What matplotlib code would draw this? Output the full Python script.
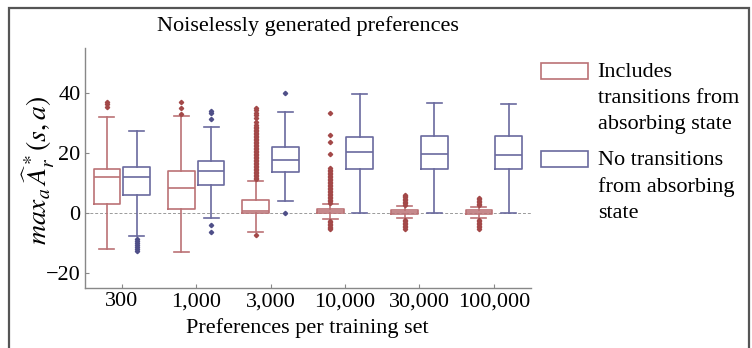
import matplotlib
matplotlib.use('Agg')
import matplotlib.pyplot as plt
from matplotlib.patches import Rectangle, Patch

plt.rcParams['font.family'] = ['Liberation Serif', 'DejaVu Serif']
plt.rcParams['mathtext.fontset'] = 'stix'

categories = ['300', '1,000', '3,000', '10,000', '30,000', '100,000']
series_names = ['Includes\ntransitions from\nabsorbing state',
                'No transitions\nfrom absorbing\nstate']

# "Includes transitions from absorbing state"
inc_whislo = [-12.0, -12.8, -6.3, -2.0, -1.6, -1.5]
inc_q1 = [3.2, 1.6, 0.2, 0.0, -0.1, -0.1]
inc_med = [12.0, 8.3, 0.9, 0.7, 0.3, 0.3]
inc_q3 = [14.9, 14.0, 4.3, 1.3, 1.0, 1.0]
inc_whishi = [32.2, 32.6, 10.8, 3.2, 2.3, 2.2]
inc_fliers = [
    [35.5, 36.3, 37.0],
    [33.2, 35.0, 37.0],
    [-7.3, 11.4, 11.9, 12.4, 12.9, 13.4, 13.9, 14.4, 14.9, 15.4, 15.9, 16.4,
     16.9, 17.4, 17.9, 18.4, 18.9, 19.4, 19.9, 20.4, 20.9, 21.4, 21.9, 22.4,
     22.9, 23.4, 23.9, 24.4, 24.9, 25.4, 25.9, 26.4, 26.9, 27.4, 27.9, 28.4,
     28.9, 29.5, 30.3, 31.8, 32.8, 33.5, 34.4, 35.0],
    [-2.4, -2.9, -3.4, -3.9, -4.4, -4.9, -5.2, 3.6, 4.1, 4.6, 5.1, 5.6, 6.1,
     6.6, 7.1, 7.6, 8.1, 8.6, 9.1, 9.6, 10.1, 10.6, 11.1, 11.6, 12.1, 12.6,
     13.1, 13.6, 14.1, 14.6, 15.2, 19.7, 23.9, 26.1, 33.6],
    [2.8, 3.3, 3.8, 4.3, 4.8, 5.3, 5.8, 6.2, -2.2, -2.7, -3.2, -3.7, -4.2,
     -4.7, -5.2],
    [2.7, 3.2, 3.7, 4.2, 4.7, 5.1, -2.1, -2.6, -3.1, -3.6, -4.1, -4.6, -5.1],
]

# "No transitions from absorbing state"
no_whislo = [-7.4, -1.7, 4.0, 0.0, 0.0, 0.0]
no_q1 = [6.1, 9.3, 13.7, 14.9, 14.7, 14.7]
no_med = [12.2, 14.0, 17.8, 20.3, 19.7, 19.6]
no_q3 = [15.3, 17.6, 22.2, 25.3, 25.7, 25.7]
no_whishi = [27.3, 28.7, 33.8, 39.9, 36.7, 36.3]
no_fliers = [
    [-8.6, -9.3, -10.0, -10.6, -11.2, -11.8, -12.4],
    [31.6, 33.3, 34.0, -3.9, -6.1],
    [40.0, 0.0],
    [], [], [],
]

W, H = 752, 348
fig = plt.figure(figsize=(W / 100, H / 100), dpi=100)
ax = fig.add_axes([84.6 / W, 1 - 288.3 / H, (531 - 84.6) / W, (288.3 - 47.7) / H])

red = '#bb7275'
red_dark = '#a34848'
blue = '#6a6a9e'
blue_dark = '#4f4f88'


def stats(wl, q1, md, q3, wh, fl):
    return [dict(whislo=a, q1=b, med=c, q3=d, whishi=e, fliers=f)
            for a, b, c, d, e, f in zip(wl, q1, md, q3, wh, fl)]


def draw(st, offset, col, fcol):
    pos = [i + offset for i in range(len(st))]
    lp = dict(color=col, linewidth=1.2)
    ax.bxp(st, positions=pos, widths=0.36, capwidths=0.2, patch_artist=False,
           boxprops=lp, whiskerprops=lp, capprops=lp, medianprops=lp,
           flierprops=dict(marker='D', markersize=2.2, markerfacecolor=fcol,
                           markeredgecolor=fcol, linestyle='none'),
           manage_ticks=False)


ax.axhline(0, color='#9a9a9a', lw=0.7, ls=(0, (3, 2)), zorder=0)
draw(stats(inc_whislo, inc_q1, inc_med, inc_q3, inc_whishi, inc_fliers), -0.2, red, red_dark)
draw(stats(no_whislo, no_q1, no_med, no_q3, no_whishi, no_fliers), 0.2, blue, blue_dark)

ax.set_xlim(-0.5, 5.5)
ax.set_ylim(-25, 55.2)
ax.set_xticks(range(len(categories)))
ax.set_xticklabels(categories)
ax.set_yticks([-20, 0, 20, 40])
ax.tick_params(direction='in', length=3, color='#888888', labelsize=16, pad=3)
for s in ['top', 'right']:
    ax.spines[s].set_visible(False)
for s in ['left', 'bottom']:
    ax.spines[s].set_color('#888888')
    ax.spines[s].set_linewidth(1.0)

ax.set_title('Noiselessly generated preferences', fontsize=16, pad=12)
ax.set_xlabel('Preferences per training set', fontsize=16, labelpad=5)
ax.set_ylabel(r'$max_a\,\widehat{A}^*_r(s,a)$', fontsize=20)
ax.yaxis.set_label_coords(-0.062, 0.49)

handles = [Patch(facecolor='white', edgecolor=red, linewidth=1.2),
           Patch(facecolor='white', edgecolor=blue, linewidth=1.2)]
leg = fig.legend(handles, series_names, loc='upper left',
                 bbox_to_anchor=(541 / W, 1 - 63 / H), frameon=False,
                 fontsize=16, handlelength=2.1, handleheight=0.72,
                 handletextpad=0.45, labelspacing=0.75, borderpad=0,
                 borderaxespad=0)
for t in leg.get_texts():
    t.set_linespacing(1.5)
try:
    for col in leg._legend_handle_box.get_children():
        for item in col.get_children():
            item.align = 'top'
except Exception:
    pass

# figure frame
fig.add_artist(Rectangle((8.5 / W, -0.1), (749 - 8.5) / W, 1.1 - 7.5 / H,
                         transform=fig.transFigure, fill=False,
                         edgecolor='#555555', linewidth=1.6, clip_on=False))

fig.savefig('out.png', dpi=100)
